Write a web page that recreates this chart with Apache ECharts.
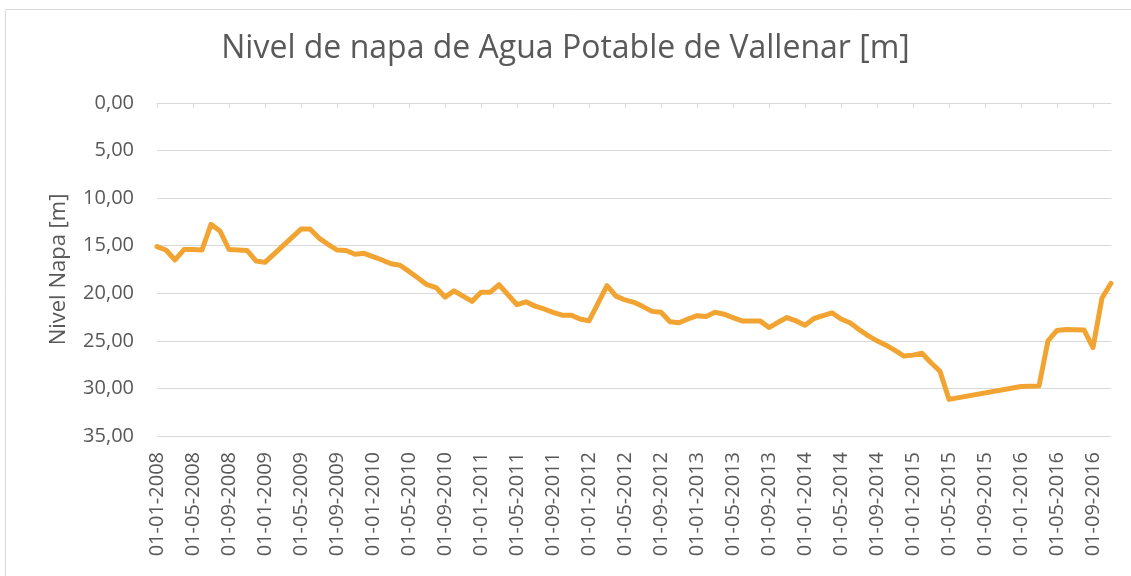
<!DOCTYPE html>
<html>
<head>
<meta charset="utf-8">
<script src="https://cdn.jsdelivr.net/npm/echarts@6/dist/echarts.min.js"></script>
<style>
html,body{margin:0;padding:0;background:#fff;}
#chart{width:1131px;height:576px;}
</style>
</head>
<body>
<div id="chart"></div>
<script>
// Monthly categories 01-01-2008 .. 01-11-2016
const startYear = 2008, nMonths = 107;
const categories = [];
for (let i = 0; i < nMonths; i++) {
  const y = startYear + Math.floor(i / 12);
  const m = (i % 12) + 1;
  categories.push('01-' + (m < 10 ? '0' + m : m) + '-' + y);
}

// Water table level [m] (null = no measurement that month, line joins across)
const nivelNapa = [
  15.1, 15.45, 16.5, 15.4, 15.4, 15.45, 12.75, 13.45, 15.4, 15.45, 15.5, 16.6,
  16.75, null, null, null, 13.25, 13.25, 14.2, 14.85, 15.45, 15.5, 15.9, 15.8,
  16.15, 16.5, 16.9, 17.05, 17.7, 18.4, 19.1, 19.4, 20.4, 19.75, 20.3, 20.85,
  19.9, 19.9, 19.1, null, 21.2, 20.9, 21.35, 21.65, 22.0, 22.3, 22.3, 22.7,
  22.9, null, 19.2, 20.3, 20.7, 20.95, 21.4, 21.9, 22.0, 23.0, 23.1, 22.7,
  22.35, 22.45, 22.0, 22.2, 22.55, 22.9, 22.9, 22.9, 23.6, 23.05, 22.55, 22.9,
  23.35, 22.65, 22.35, 22.05, 22.7, 23.1, 23.8, 24.45, 25.0, 25.45, 26.0, 26.6,
  26.5, 26.3, 27.3, 28.2, 31.15, null, null, null, null, null, null, null,
  29.8, null, 29.75, 25.0, 23.9, 23.8, null, 23.85, 25.7, 20.5, 18.95
];

const yTicks = { min: 0, max: 35, step: 5 };
const titleText = 'Nivel de napa de Agua Potable de Vallenar [m]';
const yAxisName = 'Nivel Napa [m]';

const FONT = 'Open Sans';
const TXT = '#595959';
const GRID = '#d9d9d9';

const chart = echarts.init(document.getElementById('chart'), null, { renderer: 'canvas' });
chart.setOption({
  backgroundColor: '#fff',
  animation: false,
  title: {
    text: titleText,
    left: 'center',
    top: 28,
    textStyle: { fontFamily: FONT, fontSize: 32, fontWeight: 'normal', color: TXT }
  },
  graphic: [{
    type: 'rect',
    shape: { x: 5.5, y: 9.5, width: 1140, height: 600 },
    style: { fill: 'none', stroke: GRID, lineWidth: 1 },
    silent: true
  }],
  grid: { left: 157, right: 20, top: 103, bottom: 140 },
  xAxis: [{
    type: 'category',
    position: 'bottom',
    data: categories,
    boundaryGap: false,
    axisLine: { show: false },
    axisTick: { show: false },
    splitLine: { show: false },
    axisLabel: {
      interval: 3, rotate: 90, margin: 16,
      fontFamily: FONT, fontSize: 20, color: TXT
    }
  }, {
    type: 'category',
    position: 'top',
    data: categories,
    boundaryGap: false,
    axisLine: { show: true, lineStyle: { color: GRID, width: 1 } },
    axisTick: { show: true, inside: true, interval: 3, length: 5, lineStyle: { color: GRID } },
    axisLabel: { show: false },
    splitLine: { show: false }
  }],
  yAxis: {
    type: 'value',
    inverse: true,
    min: yTicks.min, max: yTicks.max, interval: yTicks.step,
    name: yAxisName,
    nameLocation: 'middle',
    nameRotate: 90,
    nameGap: 87,
    nameTextStyle: { fontFamily: FONT, fontSize: 22, color: TXT },
    axisLine: { show: false },
    axisTick: { show: false },
    splitLine: { lineStyle: { color: GRID, width: 1 } },
    axisLabel: {
      margin: 23, fontFamily: FONT, fontSize: 20, color: TXT,
      formatter: v => v.toFixed(2).replace('.', ',')
    }
  },
  series: [{
    type: 'line',
    xAxisIndex: 0,
    data: nivelNapa,
    connectNulls: true,
    showSymbol: false,
    symbol: 'none',
    lineStyle: { color: '#F2A432', width: 5, join: 'round', cap: 'round' },
    itemStyle: { color: '#F2A432' }
  }]
});
</script>
</body>
</html>
